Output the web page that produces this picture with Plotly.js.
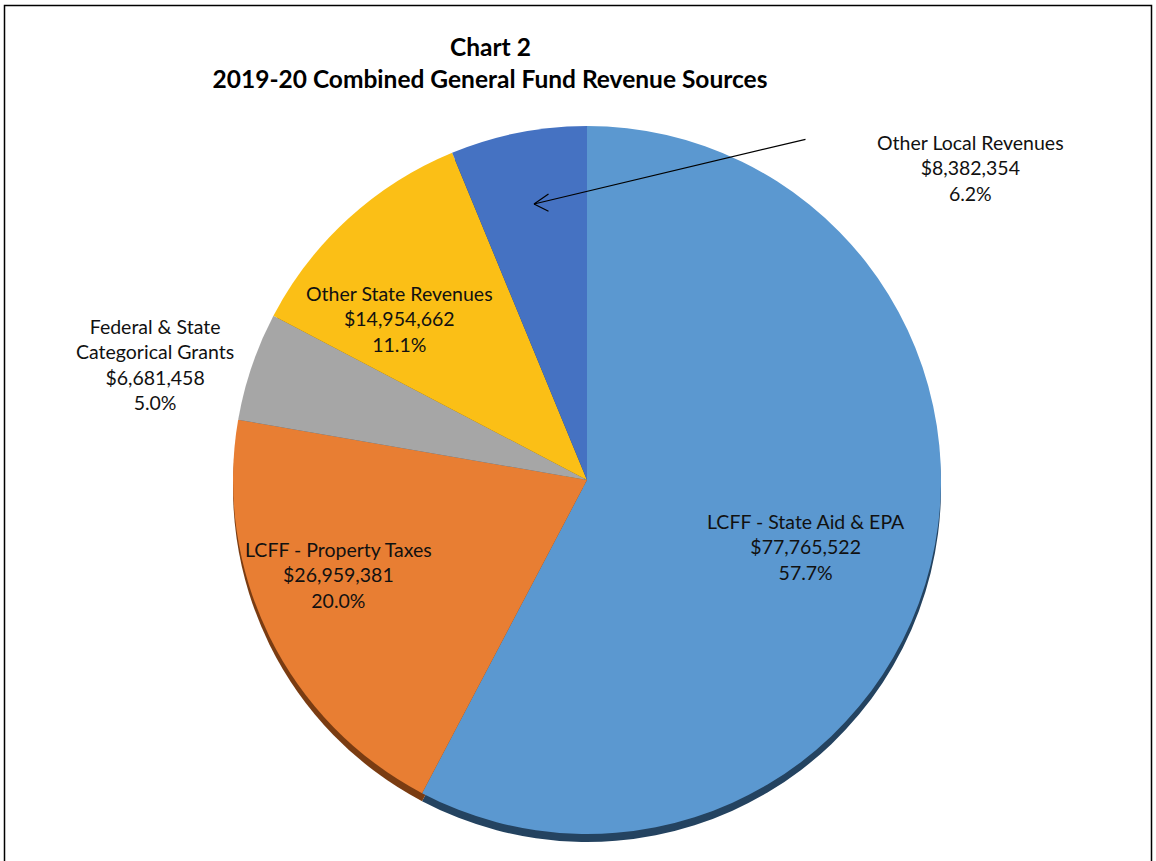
<!DOCTYPE html>
<html>
<head>
<meta charset="utf-8">
<script src="https://cdn.plot.ly/plotly-3.0.1.min.js"></script>
<style>
  html, body { margin: 0; padding: 0; background: #ffffff; }
  #chart { width: 1156px; height: 861px; }
</style>
</head>
<body>
<div id="chart"></div>
<script>
// ---- data ----
const categories = [
  "LCFF - State Aid & EPA",
  "LCFF - Property Taxes",
  "Federal & State Categorical Grants",
  "Other State Revenues",
  "Other Local Revenues"
];
const labelLines = [
  "LCFF - State Aid & EPA",
  "LCFF - Property Taxes",
  "Federal & State<br>Categorical Grants",
  "Other State Revenues",
  "Other Local Revenues"
];
const revenues = [77765522, 26959381, 6681458, 14954662, 8382354];
const percents = ["57.7%", "20.0%", "5.0%", "11.1%", "6.2%"];
const sliceColors = ["#5B98D0", "#E87E33", "#A6A6A6", "#FBBF16", "#4572C2"];
const shadowColors = ["#244360", "#7A3C12", "#555555", "#7F5F05", "#22385F"];

// ---- layout helpers ----
const W = 1156, H = 861;
const px = x => x / W;
const py = y => (H - y) / H;

const cx = 587, cy = 480, r = 354;
const font = "Lato, 'Open Sans', sans-serif";

const pieMain = {
  type: "pie",
  labels: categories,
  values: revenues,
  sort: false,
  direction: "clockwise",
  rotation: 0,
  textinfo: "none",
  hoverinfo: "skip",
  marker: { colors: sliceColors, line: { width: 0 } },
  domain: { x: [px(cx - r), px(cx + r)], y: [py(cy + r), py(cy - r)] },
  showlegend: false
};
const sh = 8;
const pieShadow = {
  type: "pie",
  labels: categories,
  values: revenues,
  sort: false,
  direction: "clockwise",
  rotation: 0,
  textinfo: "none",
  hoverinfo: "skip",
  marker: { colors: shadowColors, line: { width: 0 } },
  domain: { x: [px(cx - r), px(cx + r)], y: [py(cy + r + sh), py(cy - r + sh)] },
  showlegend: false
};

// label positions (pixel centres of each text block)
const labelPos = [
  [806, 547],
  [338, 575],
  [155, 364],
  [400, 319],
  [970, 168]
];

const annotations = categories.map((c, i) => ({
  xref: "paper", yref: "paper",
  x: px(labelPos[i][0]), y: py(labelPos[i][1]),
  xanchor: "center", yanchor: "middle",
  showarrow: false,
  align: "center",
  text: labelLines[i] + "<br>$" + revenues[i].toLocaleString("en-US") + "<br>" + percents[i],
  font: { family: font, size: 19.5, color: "#111111" }
}));

// leader arrow for Other Local Revenues (line + open chevron head)
const head = [534, 204];
const arrowParts = [
  [807, 139],   // tail of the leader line
  [550, 193],   // upper arm of the chevron
  [550, 212]    // lower arm of the chevron
];
arrowParts.forEach(p => {
  annotations.push({
    xref: "paper", yref: "paper",
    x: px(head[0]), y: py(head[1]),
    ax: p[0] - head[0], ay: p[1] - head[1],
    text: "",
    showarrow: true,
    arrowhead: 0,
    standoff: 0,
    arrowwidth: 1.2,
    arrowcolor: "#000000"
  });
});

// titles
annotations.push({
  xref: "paper", yref: "paper", x: px(490), y: py(47),
  xanchor: "center", yanchor: "middle", showarrow: false,
  text: "<b>Chart 2</b>",
  font: { family: font, size: 24.5, color: "#000000" }
});

const layout = {
  width: W, height: H,
  margin: { l: 0, r: 0, t: 0, b: 0 },
  paper_bgcolor: "#ffffff",
  title: {
    text: "<b>2019-20 Combined General Fund Revenue Sources</b>",
    x: px(490), xanchor: "center",
    y: py(79), yanchor: "middle",
    font: { family: font, size: 24.5, color: "#000000" }
  },
  annotations: annotations,
  shapes: [{
    type: "rect", xref: "paper", yref: "paper",
    x0: px(4.5), x1: px(1151.5), y0: -0.02, y1: py(5.5),
    line: { color: "#000000", width: 1.5 }
  }]
};

Plotly.newPlot("chart", [pieShadow, pieMain], layout, { displayModeBar: false, staticPlot: true });
</script>
</body>
</html>
